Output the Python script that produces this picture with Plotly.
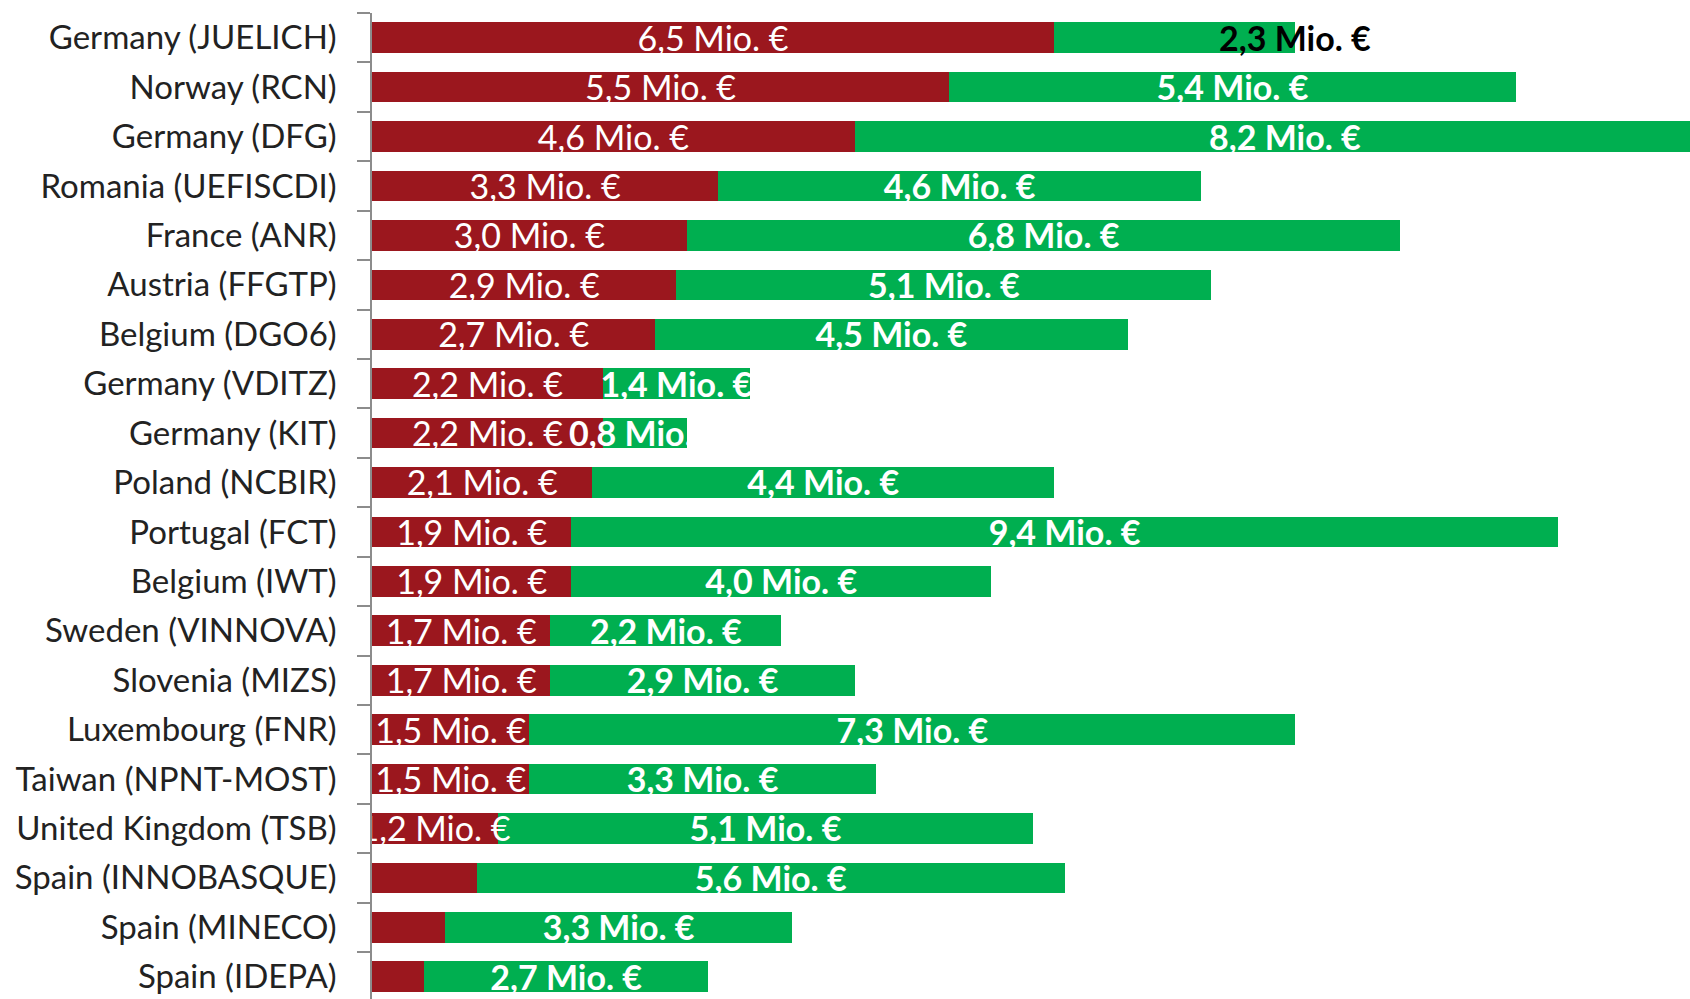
import plotly.graph_objects as go

categories = [
    "Germany (JUELICH)", "Norway (RCN)", "Germany (DFG)", "Romania (UEFISCDI)",
    "France (ANR)", "Austria (FFGTP)", "Belgium (DGO6)", "Germany (VDITZ)",
    "Germany (KIT)", "Poland (NCBIR)", "Portugal (FCT)", "Belgium (IWT)",
    "Sweden (VINNOVA)", "Slovenia (MIZS)", "Luxembourg (FNR)", "Taiwan (NPNT-MOST)",
    "United Kingdom (TSB)", "Spain (INNOBASQUE)", "Spain (MINECO)", "Spain (IDEPA)",
]
red_values = [6.5, 5.5, 4.6, 3.3, 3.0, 2.9, 2.7, 2.2, 2.2, 2.1,
              1.9, 1.9, 1.7, 1.7, 1.5, 1.5, 1.2, 1.0, 0.7, 0.5]
green_values = [2.3, 5.4, 8.2, 4.6, 6.8, 5.1, 4.5, 1.4, 0.8, 4.4,
                9.4, 4.0, 2.2, 2.9, 7.3, 3.3, 5.1, 5.6, 3.3, 2.7]
red_labels = ["6,5 Mio. €", "5,5 Mio. €", "4,6 Mio. €", "3,3 Mio. €", "3,0 Mio. €",
              "2,9 Mio. €", "2,7 Mio. €", "2,2 Mio. €", "2,2 Mio. €", "2,1 Mio. €",
              "1,9 Mio. €", "1,9 Mio. €", "1,7 Mio. €", "1,7 Mio. €", "1,5 Mio. €",
              "1,5 Mio. €", "1,2 Mio. €", "", "", ""]
green_labels = ["", "5,4 Mio. €", "8,2 Mio. €", "4,6 Mio. €", "6,8 Mio. €",
                "5,1 Mio. €", "4,5 Mio. €", "1,4 Mio. €", "0,8 Mio. €", "4,4 Mio. €",
                "9,4 Mio. €", "4,0 Mio. €", "2,2 Mio. €", "2,9 Mio. €", "7,3 Mio. €",
                "3,3 Mio. €", "5,1 Mio. €", "5,6 Mio. €", "3,3 Mio. €", "2,7 Mio. €"]
outside_label = "2,3 Mio. €"   # label of first green bar, drawn at its end in black

RED = "#9B171E"
GREEN = "#00AF50"
FONT = "Lato"
Y_RANGE = [19.45, -0.5]
LABEL_DROP = 0.09   # small downward nudge of value labels (in row units)

fig = go.Figure()
fig.add_trace(go.Bar(
    y=categories, x=red_values, orientation="h",
    marker=dict(color=RED, line_width=0), width=0.62,
))
fig.add_trace(go.Bar(
    y=categories, x=green_values, orientation="h",
    marker=dict(color=GREEN, line_width=0), width=0.62,
))

# value labels drawn above both bar layers (centre of each segment)
rows = list(range(len(categories)))
label_y = [i + LABEL_DROP for i in rows]
red_mid = [r / 2 for r in red_values]
green_mid = [r + g / 2 for r, g in zip(red_values, green_values)]
fig.add_trace(go.Scatter(
    y=label_y, x=red_mid, mode="text", text=red_labels, yaxis="y2",
    textposition="middle center", cliponaxis=True, hoverinfo="skip",
    textfont=dict(family=FONT, size=34, color="white"),
))
fig.add_trace(go.Scatter(
    y=label_y, x=green_mid, mode="text", text=green_labels, yaxis="y2",
    textposition="middle center", cliponaxis=True, hoverinfo="skip",
    textfont=dict(family=FONT, size=34, color="white", weight="bold"),
))
fig.add_annotation(
    x=red_values[0] + green_values[0], y=categories[0], text=outside_label,
    showarrow=False, xanchor="center", yanchor="middle",
    font=dict(family=FONT, size=34, color="black", weight="bold"),
)

fig.update_layout(
    barmode="stack", width=1690, height=999,
    margin=dict(l=372, r=0, t=13, b=0),
    plot_bgcolor="white", paper_bgcolor="white", showlegend=False,
    font=dict(family=FONT, color="#222222"),
    xaxis=dict(range=[0, 12.56], visible=False, showgrid=False, zeroline=False),
    yaxis=dict(
        type="category", categoryorder="array", categoryarray=categories,
        range=Y_RANGE, showline=True, linecolor="#8C8C8C", linewidth=1.5,
        ticks="outside", tickson="boundaries", ticklen=13, tickcolor="#8C8C8C",
        tickwidth=1.5, ticklabelstandoff=27, showgrid=False,
        tickfont=dict(family=FONT, size=33, color="#222222"),
    ),
    yaxis2=dict(overlaying="y", type="linear", range=Y_RANGE, visible=False,
                showgrid=False, zeroline=False),
)

fig.write_html("out.html", config={"displayModeBar": False},
               post_script="document.body.style.margin='0';")
